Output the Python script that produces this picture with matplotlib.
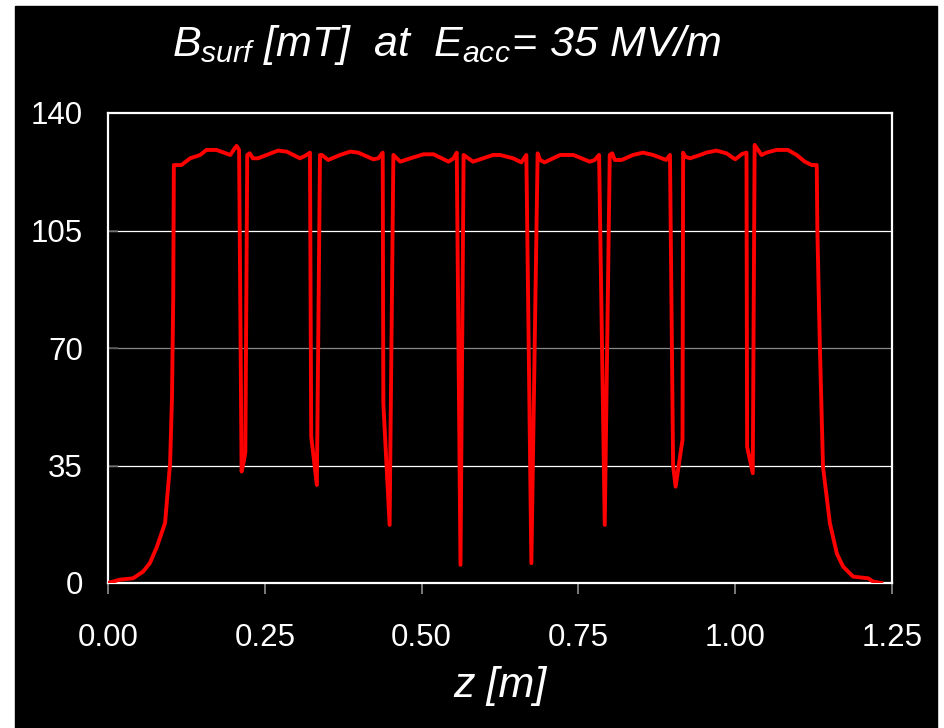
import matplotlib
matplotlib.use("Agg")
import matplotlib.pyplot as plt
from matplotlib.patches import Rectangle

plt.rcParams['font.family'] = ['Liberation Sans', 'DejaVu Sans']
plt.rcParams['mathtext.fontset'] = 'custom'
plt.rcParams['mathtext.it'] = 'Liberation Sans:italic'
plt.rcParams['mathtext.rm'] = 'Liberation Sans:italic'

# surface magnetic field along the cavity axis
z_m = [0.000, 0.019, 0.040, 0.056, 0.067, 0.078, 0.091, 0.099, 0.102, 0.104,
       0.105, 0.117, 0.131, 0.147, 0.157, 0.173, 0.195, 0.202, 0.205, 0.209,
       0.213, 0.216, 0.219, 0.222, 0.226, 0.231, 0.239, 0.253, 0.271, 0.285,
       0.306, 0.314, 0.322, 0.324, 0.333, 0.338, 0.341, 0.351, 0.370, 0.386,
       0.399, 0.423, 0.431, 0.438, 0.439, 0.449, 0.455, 0.466, 0.482, 0.503,
       0.519, 0.543, 0.551, 0.556, 0.562, 0.567, 0.582, 0.598, 0.614, 0.625,
       0.646, 0.659, 0.667, 0.675, 0.685, 0.689, 0.696, 0.721, 0.742, 0.768,
       0.776, 0.783, 0.792, 0.800, 0.804, 0.808, 0.819, 0.837, 0.853, 0.869,
       0.890, 0.896, 0.901, 0.905, 0.916, 0.917, 0.920, 0.928, 0.944, 0.954,
       0.970, 0.986, 1.000, 1.011, 1.018, 1.019, 1.028, 1.031, 1.042, 1.050,
       1.066, 1.084, 1.098, 1.111, 1.122, 1.130, 1.131, 1.135, 1.140, 1.151,
       1.162, 1.172, 1.188, 1.212, 1.220, 1.233]
b_surf = [0, 1.0, 1.4, 3.4, 6.0, 10.8, 17.9, 35.7, 55, 85,
          124.5, 124.5, 126.5, 127.5, 129, 129, 127.5, 129.5, 130.2, 129,
          33.2, 35.7, 39, 127.5, 128, 126.5, 126.5, 127.5, 128.8, 128.5,
          126.5, 127.2, 128.2, 43.6, 29.2, 127.5, 127.5, 126, 127.5, 128.5,
          128.2, 126.2, 126.5, 128.2, 53.5, 17.3, 127.5, 125.5, 126.5, 127.7,
          127.7, 125.5, 126.5, 128.2, 5.4, 127.5, 125.5, 126.5, 127.5, 127.5,
          126.5, 125.3, 127.5, 5.9, 128, 126, 125.3, 127.5, 127.5, 125.5,
          126, 127.5, 17.3, 127.5, 128, 126, 126, 127.5, 128.2, 127.5,
          126, 127.5, 35, 28.7, 42.7, 128.2, 127, 126.5, 127.5, 128.2,
          128.8, 128, 126.2, 127.8, 128.2, 40.6, 32.7, 130.5, 127.5, 128.2,
          129, 129, 127.5, 125.5, 124.5, 124.5, 105.2, 70.4, 34.6, 17.8,
          8.8, 4.9, 1.9, 1.4, 0.4, 0]

y_ticks = [0, 35, 70, 105, 140]
x_ticks = [0.00, 0.25, 0.50, 0.75, 1.00, 1.25]
x_labels = ['0.00', '0.25', '0.50', '0.75', '1.00', '1.25']

W, H = 944, 728
fig = plt.figure(figsize=(W / 100, H / 100), dpi=100, facecolor='white')
fig.patches.append(Rectangle((15 / W, 0), 922 / W, 1 - 6 / H,
                             transform=fig.transFigure, color='black', zorder=-10))

ax = fig.add_axes([108 / W, 1 - 583 / H, 784 / W, 470 / H])
ax.set_facecolor('black')

for yv in [35, 70, 105]:
    ax.axhline(yv, color='#888888' if yv == 70 else 'white', lw=0.9, zorder=1)

ax.plot(z_m, b_surf, color='#ff0000', lw=2.8, zorder=3, solid_joinstyle='round')

ax.set_xlim(0, 1.25)
ax.set_ylim(0, 140)
ax.set_xticks(x_ticks)
ax.set_xticklabels(x_labels)
ax.set_yticks(y_ticks)

for sp in ax.spines.values():
    sp.set_color('white')
    sp.set_linewidth(1.6)

ax.tick_params(axis='x', direction='out', length=8, width=1.2, color='#909090',
               labelcolor='white', labelsize=22.5, pad=21)
ax.tick_params(axis='y', direction='in', length=7, width=1.2, color='#555555',
               labelcolor='white', labelsize=22.5, pad=18)

ax.set_xlabel('z [m]', color='white', fontsize=31, style='italic', labelpad=9)

fig.text(447 / W, 1 - 45 / H,
         r'$B_{surf}\ [mT]\ \ at\ \ E_{acc}\!=\,35\ MV/m$',
         color='white', fontsize=31, ha='center', va='center')

fig.savefig('out.png', dpi=100, facecolor=fig.get_facecolor())
